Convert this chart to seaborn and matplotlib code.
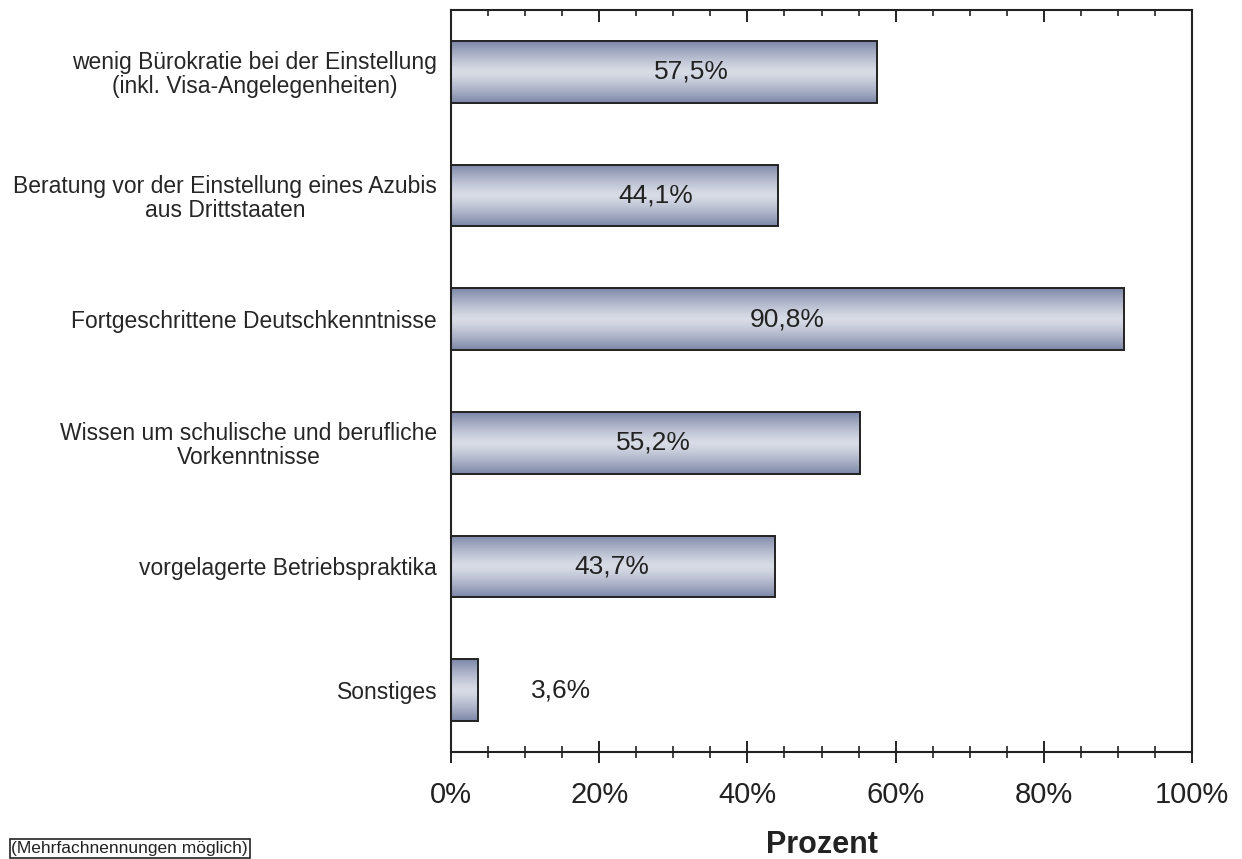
import numpy as np
import pandas as pd
import matplotlib
matplotlib.use('Agg')
import matplotlib.pyplot as plt
import seaborn as sns
from matplotlib.ticker import MultipleLocator, FuncFormatter, NullFormatter

# ===== Daten =====
kategorien = [
    'wenig Bürokratie bei der Einstellung\n(inkl. Visa-Angelegenheiten)',
    'Beratung vor der Einstellung eines Azubis\naus Drittstaaten',
    'Fortgeschrittene Deutschkenntnisse',
    'Wissen um schulische und berufliche\nVorkenntnisse',
    'vorgelagerte Betriebspraktika',
    'Sonstiges',
]
werte = [57.5, 44.1, 90.8, 55.2, 43.7, 3.6]
wert_labels = ['57,5%', '44,1%', '90,8%', '55,2%', '43,7%', '3,6%']

# Position der Beschriftungen (in Prozent auf der x-Achse)
label_pos = [32.4, 27.6, 45.4, 27.3, 21.7, 14.8]

df = pd.DataFrame({'Kategorie': kategorien, 'Prozent': werte})

sns.set_style('white')
plt.rcParams['font.family'] = ['Liberation Sans', 'DejaVu Sans']
plt.rcParams['text.color'] = '#222222'
plt.rcParams['axes.labelcolor'] = '#222222'
plt.rcParams['xtick.color'] = '#222222'

fig = plt.figure(figsize=(12.42, 8.59), dpi=100)
ax = fig.add_axes([451 / 1242, 1 - 752 / 859, (1192 - 451) / 1242, (752 - 10) / 859])

sns.barplot(data=df, y='Kategorie', x='Prozent', orient='h', width=0.5,
            color='#9aa3bd', edgecolor='#222222', linewidth=1.4, ax=ax)

# Farbverlauf in den Balken
grad = np.abs(np.linspace(-1, 1, 256))[:, None] ** 1.3
cmap = matplotlib.colors.LinearSegmentedColormap.from_list('bar', ['#d8dce6', '#7c86a7'])
for p in ax.patches:
    x0, y0 = p.get_x(), p.get_y()
    w, h = p.get_width(), p.get_height()
    im = ax.imshow(grad, cmap=cmap, aspect='auto', extent=[x0, x0 + w, y0 + h, y0],
                   zorder=p.get_zorder() - 0.1, interpolation='bilinear')
    im.set_clip_path(p)
    p.set_facecolor('none')
    p.set_zorder(3)

ax.set_xlim(0, 100)
ax.set_ylim(5.5, -0.5)

# Beschriftung der Balken
for i, (xp, txt) in enumerate(zip(label_pos, wert_labels)):
    ax.text(xp, i, txt, ha='center', va='center', fontsize=19, color='#222222', zorder=5)

# x-Achse unten: Striche durch die Achse
ax.xaxis.set_major_locator(MultipleLocator(20))
ax.xaxis.set_minor_locator(MultipleLocator(5))
ax.xaxis.set_major_formatter(FuncFormatter(lambda v, pos: f'{v:.0f}%'))
ax.tick_params(axis='x', which='major', direction='inout', length=16, width=1.4,
               labelsize=21, pad=13, bottom=True, top=False)
ax.tick_params(axis='x', which='minor', direction='inout', length=8, width=1.2,
               bottom=True, top=False)
ax.tick_params(axis='y', length=0, labelsize=16.5, pad=10)
for lab in ax.get_yticklabels():
    lab.set_multialignment('center')
    lab.set_linespacing(1.05)

# x-Achse oben: Striche nach innen
top = ax.secondary_xaxis('top')
top.xaxis.set_major_locator(MultipleLocator(20))
top.xaxis.set_minor_locator(MultipleLocator(5))
top.xaxis.set_major_formatter(NullFormatter())
top.tick_params(which='major', direction='in', length=8.5, width=1.4, color='#222222')
top.tick_params(which='minor', direction='in', length=4, width=1.2, color='#222222')
top.spines['top'].set_visible(False)

ax.set_ylabel('')
ax.set_xlabel('Prozent', fontsize=22, fontweight='bold', labelpad=15)

for s in ax.spines.values():
    s.set_visible(True)
    s.set_color('#222222')
    s.set_linewidth(1.5)

fig.text(248 / 1242, 1 - 856 / 859, '(Mehrfachnennungen möglich)', ha='right', va='bottom',
         fontsize=12.5, color='#222222',
         bbox=dict(boxstyle='square,pad=0.1', facecolor='white', edgecolor='#222222', linewidth=1.2))

plt.savefig('out.png', dpi=100)
